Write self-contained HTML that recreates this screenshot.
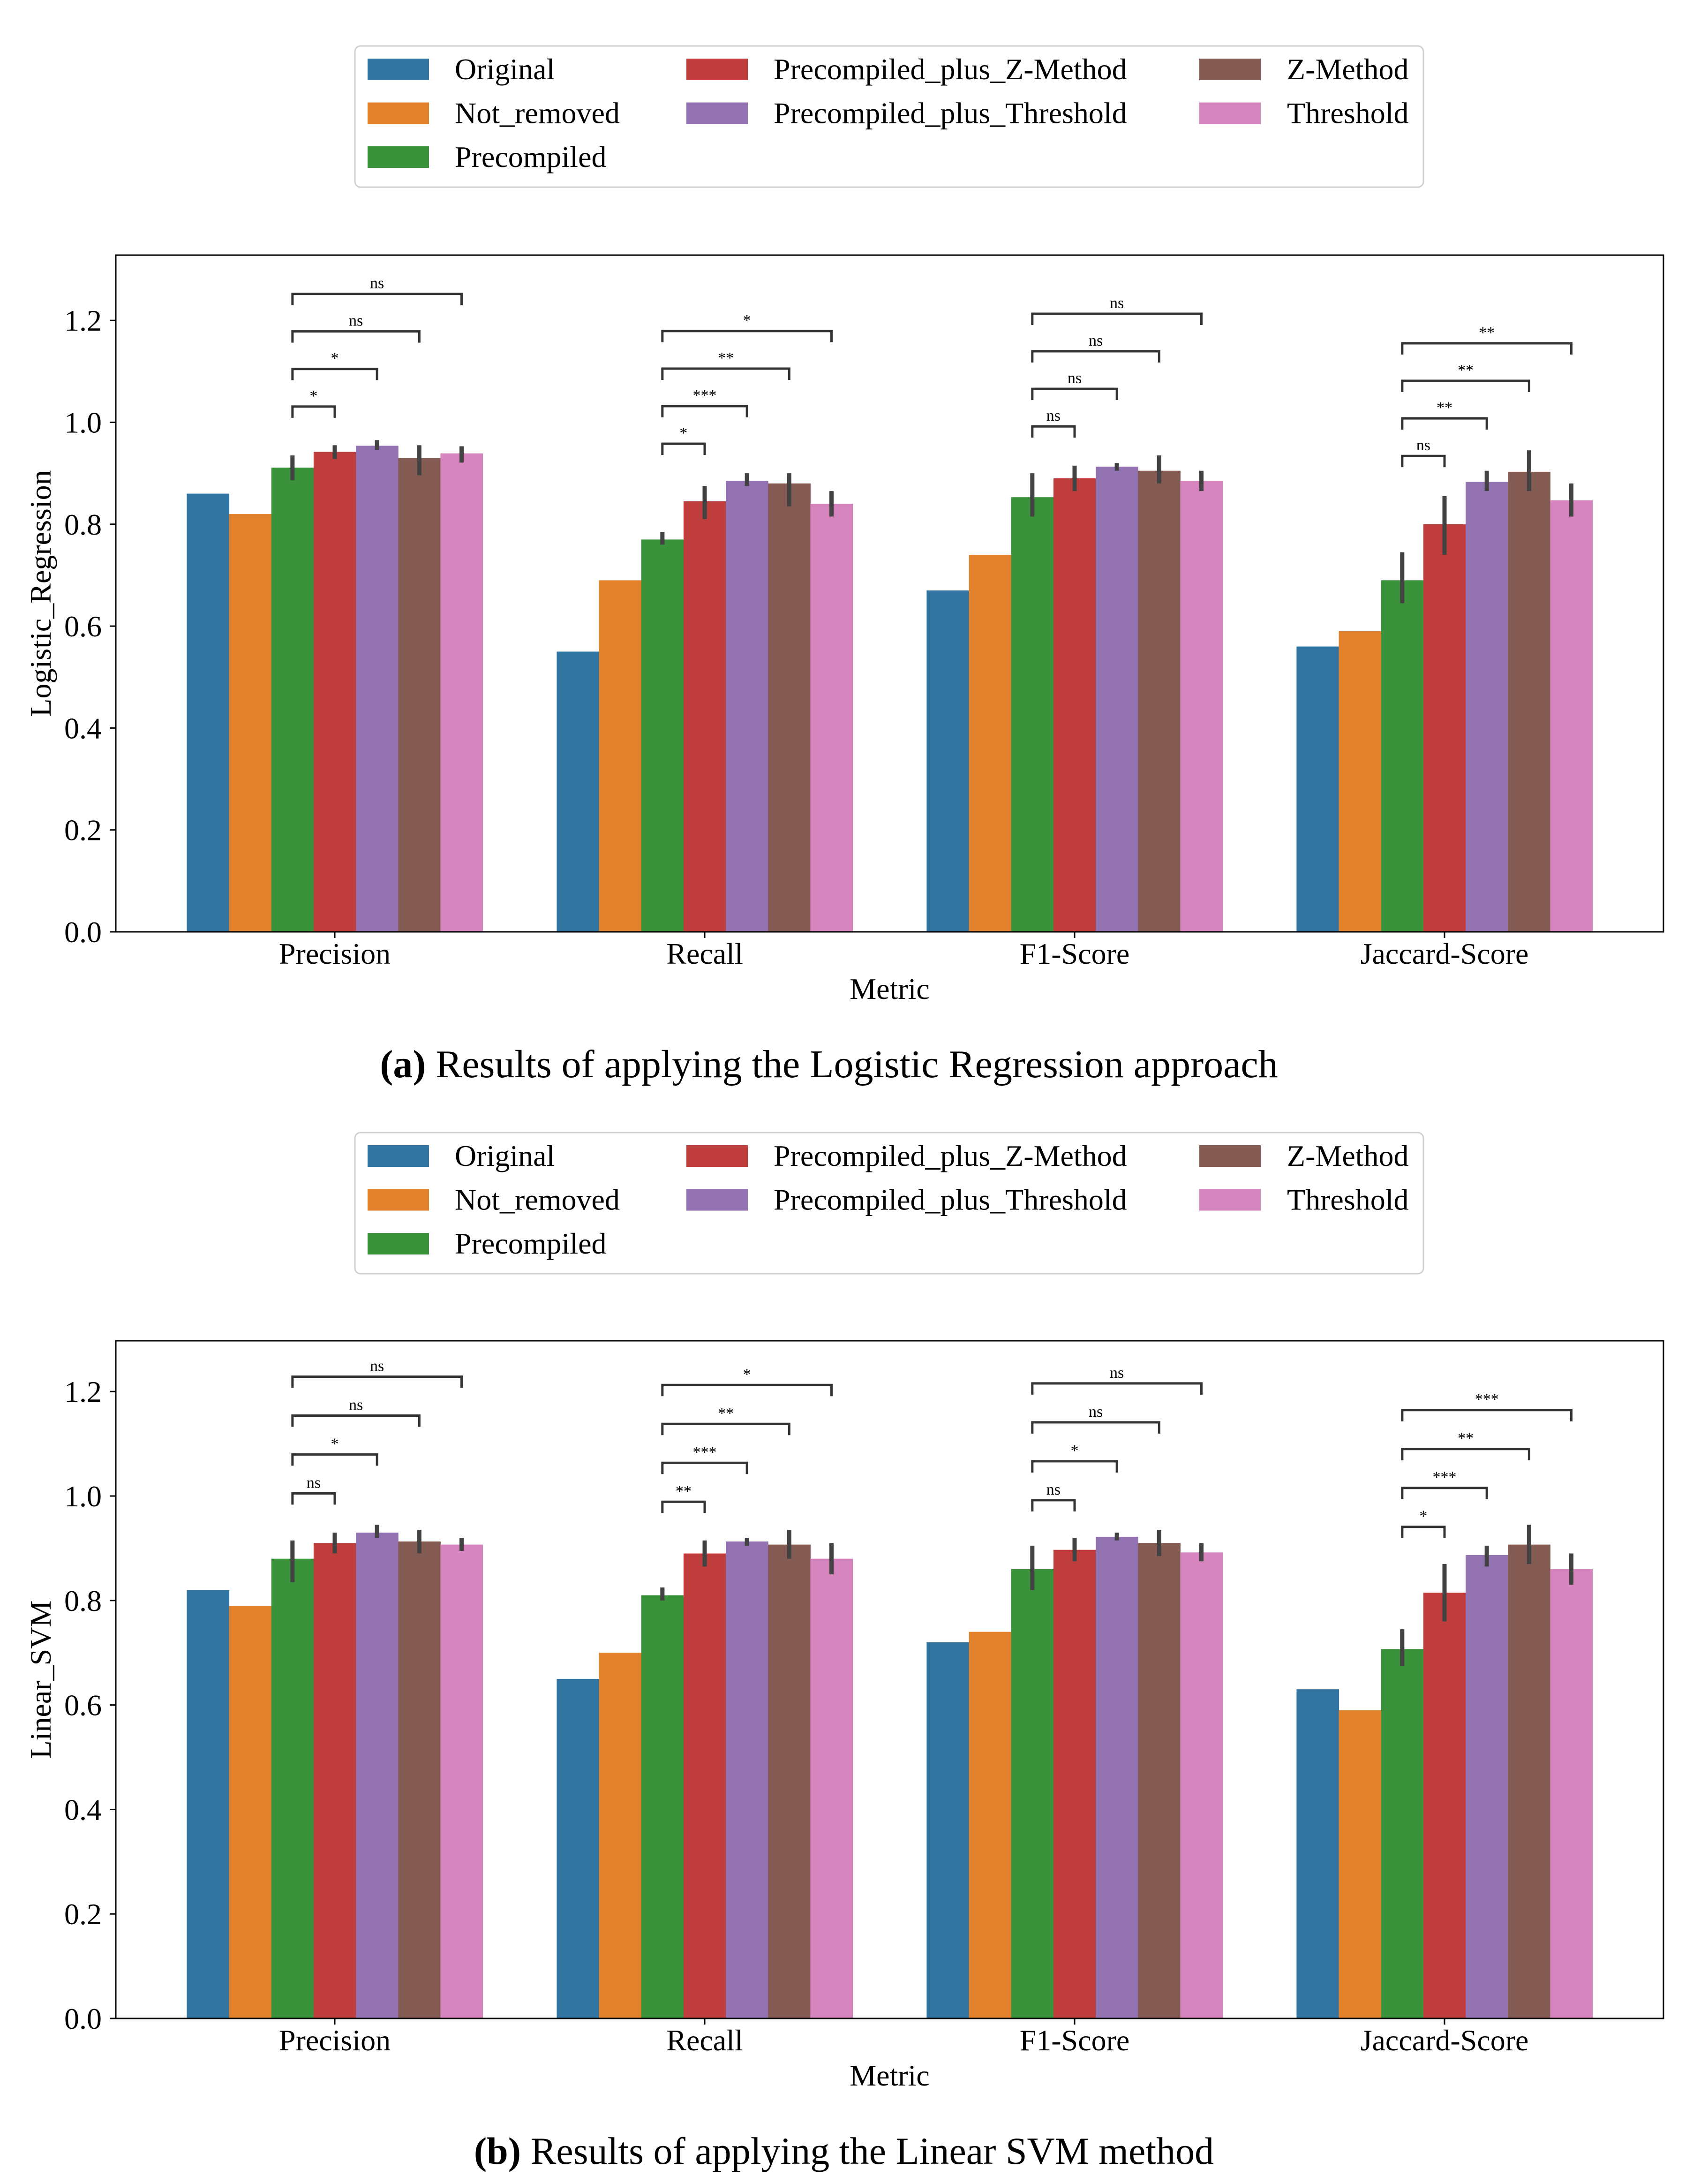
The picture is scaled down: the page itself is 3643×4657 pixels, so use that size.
<!DOCTYPE html>
<html><head><meta charset="utf-8"><style>
html,body{margin:0;padding:0;background:#fff;}
svg{display:block;font-family:"Liberation Serif","Times New Roman",serif;}
</style></head><body>
<svg id="fig" width="3643" height="4657" viewBox="0 0 3643 4657" xmlns="http://www.w3.org/2000/svg"></svg>
<script>
const categories = ["Precision","Recall","F1-Score","Jaccard-Score"];
const series = ["Original","Not_removed","Precompiled","Precompiled_plus_Z-Method","Precompiled_plus_Threshold","Z-Method","Threshold"];
const colors = ["#3274a1","#e1812c","#3a923a","#c03d3e","#9372b2","#845b53","#d684bd"];
const yTicks = [0.0,0.2,0.4,0.6,0.8,1.0,1.2];
const yTickLabels = ["0.0","0.2","0.4","0.6","0.8","1.0","1.2"];

// Panel A: Logistic Regression  (rows = series, cols = categories)
const lrValues = [
 [0.86,0.55,0.67,0.56],
 [0.82,0.69,0.74,0.59],
 [0.911,0.77,0.853,0.69],
 [0.942,0.845,0.89,0.80],
 [0.954,0.885,0.913,0.883],
 [0.930,0.88,0.905,0.903],
 [0.939,0.84,0.885,0.847]
];
const lrLo = [
 [null,null,null,null],[null,null,null,null],
 [0.886,0.76,0.815,0.645],
 [0.928,0.81,0.865,0.74],
 [0.946,0.875,0.905,0.865],
 [0.896,0.835,0.88,0.865],
 [0.921,0.815,0.865,0.815]
];
const lrHi = [
 [null,null,null,null],[null,null,null,null],
 [0.935,0.785,0.90,0.745],
 [0.955,0.875,0.915,0.855],
 [0.965,0.90,0.92,0.905],
 [0.955,0.90,0.935,0.945],
 [0.953,0.865,0.905,0.88]
];
const lrBase = [1.031,0.958,0.992,0.934];
const lrSig = [["*","*","ns","ns"],["*","***","**","*"],["ns","ns","ns","ns"],["ns","**","**","**"]];

// Panel B: Linear SVM
const svmValues = [
 [0.82,0.65,0.72,0.63],
 [0.79,0.70,0.74,0.59],
 [0.88,0.81,0.86,0.707],
 [0.91,0.89,0.897,0.815],
 [0.93,0.913,0.922,0.887],
 [0.913,0.907,0.91,0.907],
 [0.907,0.88,0.892,0.86]
];
const svmLo = [
 [null,null,null,null],[null,null,null,null],
 [0.835,0.80,0.82,0.675],
 [0.89,0.865,0.875,0.76],
 [0.92,0.905,0.915,0.865],
 [0.89,0.88,0.885,0.87],
 [0.895,0.85,0.875,0.83]
];
const svmHi = [
 [null,null,null,null],[null,null,null,null],
 [0.915,0.825,0.905,0.745],
 [0.93,0.915,0.92,0.87],
 [0.945,0.92,0.93,0.905],
 [0.935,0.935,0.935,0.945],
 [0.92,0.91,0.91,0.89]
];
const svmBase = [1.005,0.989,0.992,0.941];
const svmSig = [["ns","*","ns","ns"],["**","***","**","*"],["ns","*","ns","ns"],["*","***","**","***"]];

const NS = "http://www.w3.org/2000/svg";
const svg = document.getElementById("fig");
function el(tag, attrs, parent, text){
  const e = document.createElementNS(NS, tag);
  for (const k in attrs) e.setAttribute(k, attrs[k]);
  if (text !== undefined) e.textContent = text;
  (parent||svg).appendChild(e);
  return e;
}

const AX_L = 247, AX_R = 3548, GROUP0 = 714, GROUP_STEP = 789;
const BAR_W = GROUP_STEP*0.8/7;
function xCenter(ci){ return GROUP0 + ci*GROUP_STEP; }
function xBar(ci, si){ return xCenter(ci) - 3.5*BAR_W + si*BAR_W; }

function drawLegend(g, top){
  const box = el("rect",{x:757,y:top,width:2279,height:301,rx:12,fill:"#fff",stroke:"#d0d0d0","stroke-width":3},g);
  
  
  const cols=[[784,970],[1464,1650],[2558,2745]];
  const order=[[0,0],[1,0],[2,0],[0,1],[1,1],[0,2],[1,2]];
  series.forEach((s,i)=>{
    const r=order[i][0], c=order[i][1];
    const y=top+27+r*93.5;
    const eg=el("g",{},g);
    
    
    el("rect",{x:cols[c][0],y:y,width:131,height:46,fill:colors[i]},eg);
    el("text",{x:cols[c][1],y:y+44,"font-size":64,fill:"#000"},eg,s);
  });
}

function drawPanel(opts){
  const g = el("g",{});
  
  
  const top=opts.top, bottom=opts.bottom, perUnit=opts.perUnit;
  const y = v => bottom - v*perUnit;

  const lg=el("g",{},g);
  
  
  drawLegend(lg, opts.legendTop);

  const bg=el("g",{},g);
  
  
  series.forEach((s,si)=>{
    categories.forEach((c,ci)=>{
      const v=opts.values[si][ci];
      const r=el("rect",{x:xBar(ci,si),y:y(v),width:BAR_W+0.5,height:bottom-y(v),fill:colors[si]},bg);
      
      
    });
  });
  series.forEach((s,si)=>{
    categories.forEach((c,ci)=>{
      const lo=opts.lo[si][ci], hi=opts.hi[si][ci];
      if(lo===null) return;
      const cx=xBar(ci,si)+BAR_W/2;
      const l=el("line",{x1:cx,x2:cx,y1:y(lo),y2:y(hi),stroke:"#424242","stroke-width":9},bg);
      
      
    });
  });
  const sg=el("g",{},g);
  
  
  categories.forEach((c,ci)=>{
    const x1=xBar(ci,2)+BAR_W/2;
    for(let k=0;k<4;k++){
      const x2=xBar(ci,3+k)+BAR_W/2;
      const ly=y(opts.base[ci]+k*opts.step);
      const p=el("path",{d:`M${x1},${ly+24} L${x1},${ly} L${x2},${ly} L${x2},${ly+24}`,fill:"none",stroke:"#333","stroke-width":5},sg);
      
      
      const t=el("text",{x:(x1+x2)/2,y:ly-12,"text-anchor":"middle","font-size":34,fill:"#000"},sg,opts.sig[ci][k]);
      
      
    }
  });
  const fr=el("rect",{x:AX_L,y:top,width:AX_R-AX_L,height:bottom-top,fill:"none",stroke:"#000","stroke-width":3},g);
  
  
  const yg=el("g",{},g);
  
  
  yTicks.forEach((t,i)=>{
    el("line",{x1:AX_L-13,x2:AX_L,y1:y(t),y2:y(t),stroke:"#000","stroke-width":3},yg);
    el("text",{x:AX_L-30,y:y(t)+22,"text-anchor":"end","font-size":64,fill:"#000"},yg,yTickLabels[i]);
  });
  const yl=el("text",{x:0,y:0,transform:`translate(108,${(top+bottom)/2}) rotate(-90)`,"text-anchor":"middle","font-size":64,fill:"#000"},g,opts.ylabel);
  
  
  const xg=el("g",{},g);
  
  
  categories.forEach((c,ci)=>{
    el("line",{x1:xCenter(ci),x2:xCenter(ci),y1:bottom,y2:bottom+13,stroke:"#000","stroke-width":3},xg);
    el("text",{x:xCenter(ci),y:bottom+68,"text-anchor":"middle","font-size":64,fill:"#000"},xg,c);
  });
  const xl=el("text",{x:(AX_L+AX_R)/2,y:bottom+143,"text-anchor":"middle","font-size":64,fill:"#000"},g,"Metric");
  
  
  const cap=el("text",{x:opts.capX,y:opts.capY,"text-anchor":"middle","font-size":opts.capSize,fill:"#000"},g);
  
  
  el("tspan",{"font-weight":"bold"},cap,opts.capBold);
  el("tspan",{},cap," "+opts.capText);
}

drawPanel({name:"panel-a-logistic-regression",top:544,bottom:1987,perUnit:1086.5,legendTop:98,
  values:lrValues,lo:lrLo,hi:lrHi,base:lrBase,step:0.0737,sig:lrSig,ylabel:"Logistic_Regression",
  capX:1768,capY:2297,capSize:84,capBold:"(a)",capText:"Results of applying the Logistic Regression approach"});
drawPanel({name:"panel-b-linear-svm",top:2859,bottom:4304,perUnit:1114,legendTop:2415,
  values:svmValues,lo:svmLo,hi:svmHi,base:svmBase,step:0.0745,sig:svmSig,ylabel:"Linear_SVM",
  capX:1800,capY:4614,capSize:82,capBold:"(b)",capText:"Results of applying the Linear SVM method"});
</script>
</body></html>
